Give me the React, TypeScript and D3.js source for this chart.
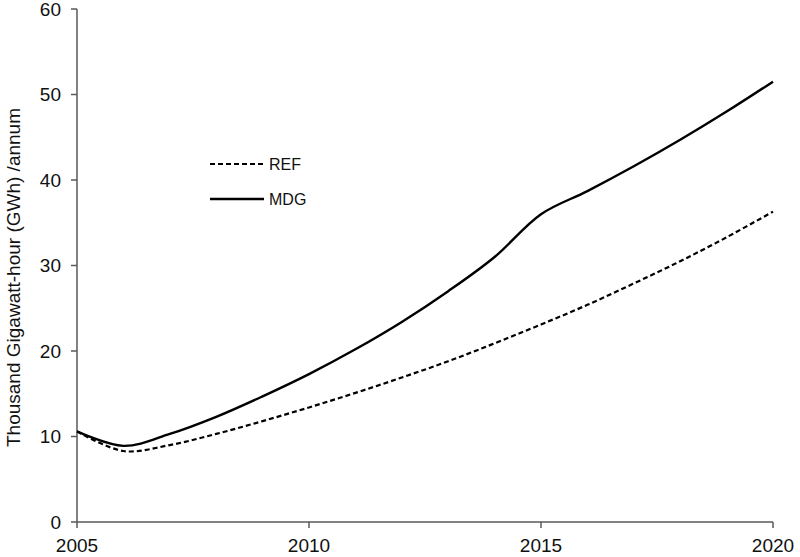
import React from "react";
import * as d3 from "d3";

const years = [2005, 2006, 2007, 2008, 2009, 2010, 2011, 2012, 2013, 2014, 2015, 2016, 2017, 2018, 2019, 2020];
const refValues = [10.6, 8.3, 9.0, 10.3, 11.8, 13.4, 15.1, 16.9, 18.8, 20.9, 23.1, 25.4, 27.9, 30.5, 33.3, 36.3];
const mdgValues = [10.6, 8.9, 10.3, 12.3, 14.7, 17.3, 20.2, 23.4, 27.0, 31.0, 36.0, 38.7, 41.6, 44.7, 48.0, 51.5];
const xTicks = [2005, 2010, 2015, 2020];
const yTicks = [0, 10, 20, 30, 40, 50, 60];
const seriesNames = ["REF", "MDG"];
const yLabel = "Thousand Gigawatt-hour (GWh) /annum";

export default function App() {
  const W = 800, H = 557;
  const x = d3.scaleLinear().domain([2005, 2020]).range([77, 773]);
  const y = d3.scaleLinear().domain([0, 60]).range([522, 9]);
  const line = d3
    .line<number>()
    .x((_, i) => x(years[i]))
    .y((d) => y(d))
    .curve(d3.curveCatmullRom.alpha(0.5));
  const font = "Liberation Sans, Arial, sans-serif";
  const axisColor = "#595959";
  return (
    <svg width={W} height={H} style={{ position: "absolute", left: 0, top: 0, background: "#fff" }}>
      <rect width={W} height={H} fill="#fff" />
      <line x1={x(2005)} x2={x(2005)} y1={y(0)} y2={y(60)} stroke={axisColor} strokeWidth={1.5} />
      {yTicks.map((t) => (
        <g key={t}>
          <line x1={x(2005) - 6} x2={x(2005)} y1={y(t)} y2={y(t)} stroke={axisColor} strokeWidth={1.5} />
          <text x={x(2005) - 16} y={y(t)} dy="0.36em" textAnchor="end" fontFamily={font} fontSize={19} fill="#111">
            {t}
          </text>
        </g>
      ))}
      <line x1={x(2005)} x2={x(2020)} y1={y(0)} y2={y(0)} stroke={axisColor} strokeWidth={1.5} />
      {xTicks.map((t) => (
        <g key={t}>
          <line x1={x(t)} x2={x(t)} y1={y(0)} y2={y(0) + 6} stroke={axisColor} strokeWidth={1.5} />
          <text x={x(t)} y={y(0) + 30} textAnchor="middle" fontFamily={font} fontSize={19} fill="#111">
            {t}
          </text>
        </g>
      ))}
      <text
        transform={`translate(20, ${(y(0) + y(60)) / 2 + 12}) rotate(-90)`}
        textAnchor="middle"
        fontFamily={font}
        fontSize={19}
        fill="#111"
      >
        {yLabel}
      </text>
      <path d={line(refValues) || ""} fill="none" stroke="#000" strokeWidth={2.2} strokeDasharray="5,3" />
      <path d={line(mdgValues) || ""} fill="none" stroke="#000" strokeWidth={2.4} />
      <line x1={210} x2={264} y1={164} y2={164} stroke="#000" strokeWidth={2.2} strokeDasharray="5,3" />
      <text x={269} y={164} dy="0.36em" fontFamily={font} fontSize={16} fill="#111">{seriesNames[0]}</text>
      <line x1={210} x2={264} y1={199} y2={199} stroke="#000" strokeWidth={2.4} />
      <text x={269} y={199} dy="0.36em" fontFamily={font} fontSize={16} fill="#111">{seriesNames[1]}</text>
    </svg>
  );
}
